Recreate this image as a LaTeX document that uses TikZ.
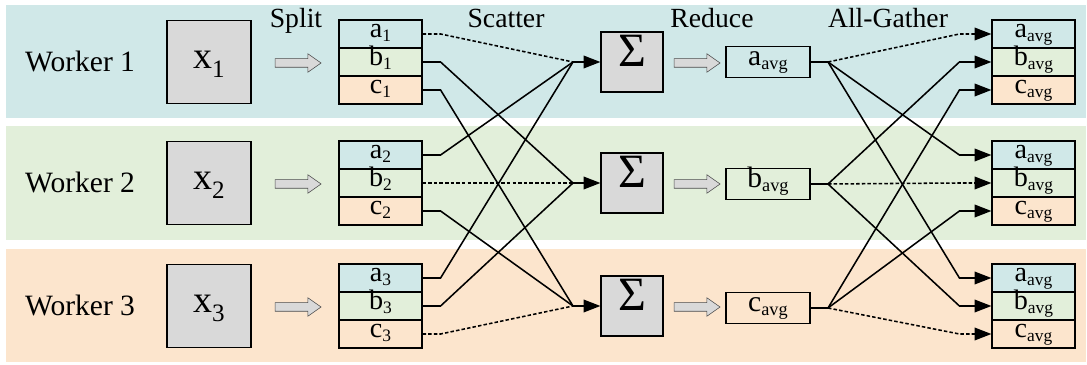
\documentclass[tikz,border=0pt]{standalone}
\usepackage{fontspec}
\setmainfont{Liberation Serif}
\usetikzlibrary{arrows.meta,shapes.arrows}
\definecolor{rowa}{RGB}{208,232,232}
\definecolor{rowb}{RGB}{226,239,218}
\definecolor{rowc}{RGB}{252,229,205}
\definecolor{boxgray}{RGB}{217,217,217}
\newcommand{\lo}[1]{\raisebox{-0.15em}{\scalebox{0.62}{#1}}}
\newcommand{\xlo}[1]{\raisebox{-0.25em}{\scalebox{0.66}{#1}}}

\begin{document}
\begin{tikzpicture}[x=0.025cm, y=-0.025cm,
    cell/.style={draw, line width=0.8pt, minimum width=2.075cm, minimum height=0.7cm,
      inner sep=0pt, text height=0.6em, text depth=0.15em, font=\fontsize{20}{22}\selectfont},
    xbox/.style={draw, fill=boxgray, line width=0.8pt, minimum width=2.1cm, minimum height=2.08cm,
      inner sep=0pt, text height=0.9em, text depth=0.03em, font=\fontsize{27}{30}\selectfont},
    sumbox/.style={draw, fill=boxgray, line width=0.8pt, minimum width=1.55cm, minimum height=1.5cm,
      inner sep=0pt, text height=0.66em, text depth=0pt, font=\fontsize{34}{36}\selectfont},
    avgbox/.style={draw, line width=0.8pt, minimum width=2.1cm, minimum height=0.775cm,
      inner sep=0pt, text height=0.6em, text depth=0.15em, font=\fontsize{21}{24}\selectfont},
    blk/.style={single arrow, draw=black!70, fill=boxgray, line width=0.4pt,
      inner xsep=0pt, inner ysep=0.1cm, text height=0pt, text depth=0pt,
      minimum height=1.15cm, single arrow head extend=0.125cm,
      single arrow tip angle=70},
    lbl/.style={anchor=base, font=\fontsize{19.7}{22}\selectfont},
    wlbl/.style={anchor=base, font=\fontsize{21}{24}\selectfont},
    line/.style={line width=1.1pt},
    dot/.style={dash pattern=on 2.5pt off 1.5pt},
    head/.style={-{Triangle[length=12pt,width=9pt]}}]
  \useasboundingbox (0,0) rectangle (1087,365);
  \fill [rowa] (6,5)   rectangle (1086,118);
  \fill [rowb] (6,126) rectangle (1086,240);
  \fill [rowc] (6,249) rectangle (1086,362);

  \node [lbl] (split)   at (296,28) {Split};
  \node [lbl] (scatter) at (506,28) {Scatter};
  \node [lbl] (reduce)  at (712,28) {Reduce};
  \node [lbl] (gather)  at (888,28) {All-Gather};

  \node [wlbl] (w1) at (80, 72) {Worker 1};
  \node [wlbl] (w2) at (80,193) {Worker 2};
  \node [wlbl] (w3) at (80,316) {Worker 3};

  \node [xbox] (x1) at (209, 62) {x\xlo{1}};
  \node [xbox] (x2) at (209,183) {x\xlo{2}};
  \node [xbox] (x3) at (209,306) {x\xlo{3}};

  \node [blk] (sp1) at (295, 63) {};
  \node [blk] (sp2) at (295,184) {};
  \node [blk] (sp3) at (295,307) {};

  \node [cell, fill=rowa] (s1a) at (380.5, 34) {a\lo{1}};
  \node [cell, fill=rowb] (s1b) at (380.5, 62) {b\lo{1}};
  \node [cell, fill=rowc] (s1c) at (380.5, 90) {c\lo{1}};
  \node [cell, fill=rowa] (s2a) at (380.5,155) {a\lo{2}};
  \node [cell, fill=rowb] (s2b) at (380.5,183) {b\lo{2}};
  \node [cell, fill=rowc] (s2c) at (380.5,211) {c\lo{2}};
  \node [cell, fill=rowa] (s3a) at (380.5,278) {a\lo{3}};
  \node [cell, fill=rowb] (s3b) at (380.5,306) {b\lo{3}};
  \node [cell, fill=rowc] (s3c) at (380.5,334) {c\lo{3}};

  \coordinate (m1) at (573, 62);
  \coordinate (m2) at (573,183);
  \coordinate (m3) at (573,306);

  \node [sumbox] (sum1) at (632, 62) {Σ};
  \node [sumbox] (sum2) at (632,183) {Σ};
  \node [sumbox] (sum3) at (632,306) {Σ};

  \node [blk] (rd1) at (694, 63) {};
  \node [blk] (rd2) at (694,184) {};
  \node [blk] (rd3) at (694,307) {};

  \node [avgbox] (avg1) at (768, 62) {a\lo{avg}};
  \node [avgbox] (avg2) at (768,184) {b\lo{avg}};
  \node [avgbox] (avg3) at (768,308) {c\lo{avg}};

  \coordinate (n1) at (828, 62);
  \coordinate (n2) at (828,184);
  \coordinate (n3) at (828,308);

  \node [cell, fill=rowa] (g1a) at (1033.5, 34) {a\lo{avg}};
  \node [cell, fill=rowb] (g1b) at (1033.5, 62) {b\lo{avg}};
  \node [cell, fill=rowc] (g1c) at (1033.5, 90) {c\lo{avg}};
  \node [cell, fill=rowa] (g2a) at (1033.5,155) {a\lo{avg}};
  \node [cell, fill=rowb] (g2b) at (1033.5,183) {b\lo{avg}};
  \node [cell, fill=rowc] (g2c) at (1033.5,211) {c\lo{avg}};
  \node [cell, fill=rowa] (g3a) at (1033.5,278) {a\lo{avg}};
  \node [cell, fill=rowb] (g3b) at (1033.5,306) {b\lo{avg}};
  \node [cell, fill=rowc] (g3c) at (1033.5,334) {c\lo{avg}};

  \draw [line, dot] (s1a.east) -- ([xshift=0.45cm]s1a.east) -- (m1);
  \draw [line] (s1b.east) -- ([xshift=0.45cm]s1b.east) -- (m2);
  \draw [line] (s1c.east) -- ([xshift=0.45cm]s1c.east) -- (m3);
  \draw [line] (s2a.east) -- ([xshift=0.45cm]s2a.east) -- (m1);
  \draw [line, dot] (s2b.east) -- ([xshift=0.45cm]s2b.east) -- (m2);
  \draw [line] (s2c.east) -- ([xshift=0.45cm]s2c.east) -- (m3);
  \draw [line] (s3a.east) -- ([xshift=0.45cm]s3a.east) -- (m1);
  \draw [line] (s3b.east) -- ([xshift=0.45cm]s3b.east) -- (m2);
  \draw [line, dot] (s3c.east) -- ([xshift=0.45cm]s3c.east) -- (m3);
  \draw [line, head] (m1) -- (sum1);
  \draw [line, head] (m2) -- (sum2);
  \draw [line, head] (m3) -- (sum3);

  \draw [line] (avg1.east) -- (n1);
  \draw [line] (avg2.east) -- (n2);
  \draw [line] (avg3.east) -- (n3);
  \draw [line, head, dot] (n1) -- ([xshift=-0.8cm]g1a.west) -- (g1a.west);
  \draw [line, head] (n1) -- ([xshift=-0.8cm]g2a.west) -- (g2a.west);
  \draw [line, head] (n1) -- ([xshift=-0.8cm]g3a.west) -- (g3a.west);
  \draw [line, head] (n2) -- ([xshift=-0.8cm]g1b.west) -- (g1b.west);
  \draw [line, head, dot] (n2) -- ([xshift=-0.8cm]g2b.west) -- (g2b.west);
  \draw [line, head] (n2) -- ([xshift=-0.8cm]g3b.west) -- (g3b.west);
  \draw [line, head] (n3) -- ([xshift=-0.8cm]g1c.west) -- (g1c.west);
  \draw [line, head] (n3) -- ([xshift=-0.8cm]g2c.west) -- (g2c.west);
  \draw [line, head, dot] (n3) -- ([xshift=-0.8cm]g3c.west) -- (g3c.west);
\end{tikzpicture}
\end{document}
